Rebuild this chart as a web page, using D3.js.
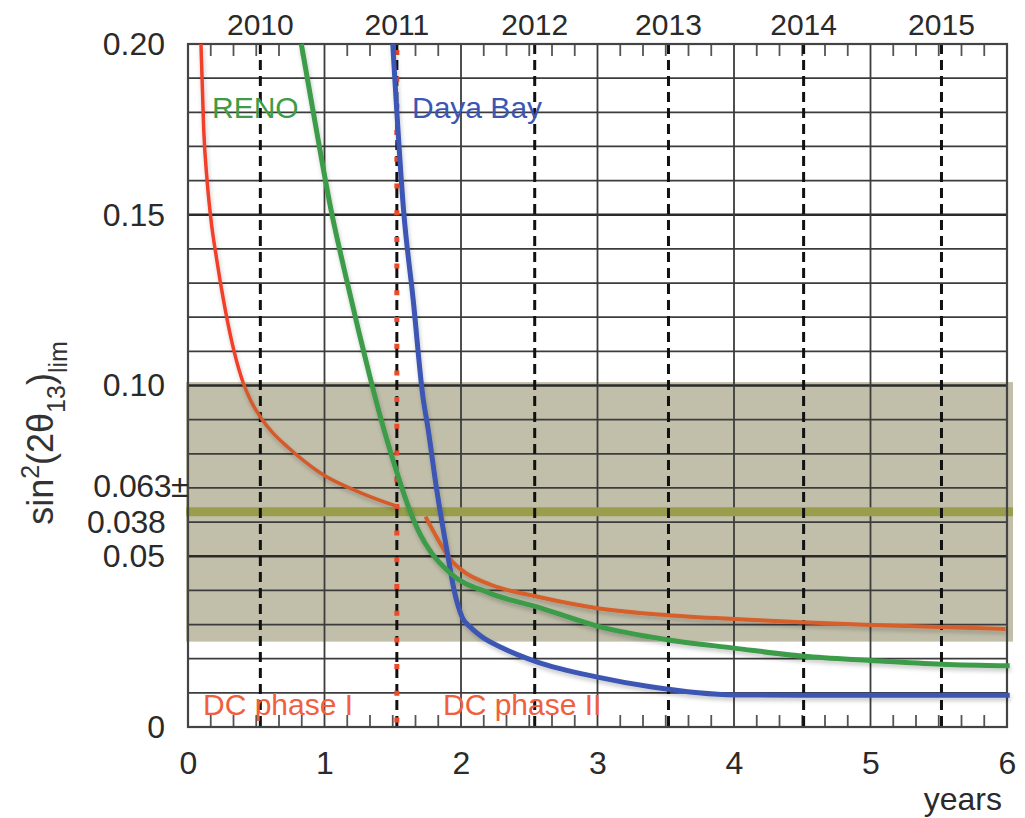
<!DOCTYPE html>
<html>
<head>
<meta charset="utf-8">
<script src="https://cdn.jsdelivr.net/npm/d3@7"></script>
<style>
  html, body { margin: 0; padding: 0; background: #ffffff; }
  svg { display: block; }
  text { font-family: "Liberation Sans", Arial, sans-serif; fill: #2a2a2a; }
</style>
</head>
<body>
<svg id="chart" width="1025" height="818"></svg>
<script>
// ---------------- data ----------------
const xTicks = [0, 1, 2, 3, 4, 5, 6];
const yTickValues = [0, 0.05, 0.10, 0.15, 0.20];
const yTickLabels = ["0", "0.05", "0.10", "0.15", "0.20"];
const yearLabels = ["2010", "2011", "2012", "2013", "2014", "2015"];
const yearPositions = [0.53, 1.53, 2.54, 3.52, 4.51, 5.52];
const dcPhaseBoundary = 1.53;

const bestFit = 0.063;
const bestFitError = 0.038;

// Double Chooz phase I (far detector only)
const dcPhase1 = [
  [0.095, 0.20], [0.115, 0.175], [0.14, 0.16], [0.17, 0.148], [0.21, 0.137],
  [0.26, 0.125], [0.32, 0.113], [0.39, 0.1025], [0.46, 0.0955], [0.535, 0.0905],
  [0.62, 0.0862], [0.73, 0.082], [0.97, 0.0744], [1.27, 0.0685], [1.54, 0.0645]
];
// Double Chooz phase II (near + far)
const dcPhase2 = [
  [1.74, 0.0616], [1.83, 0.055], [1.92, 0.0492], [2.01, 0.0458], [2.21, 0.0418],
  [2.58, 0.038], [3.0, 0.0348], [3.5, 0.0328], [4.0, 0.0316], [4.5, 0.0307],
  [5.0, 0.0299], [5.5, 0.0293], [5.99, 0.0287]
];
// RENO
const reno = [
  [0.83, 0.20], [0.94, 0.175], [1.05, 0.151], [1.15, 0.133], [1.25, 0.116],
  [1.33, 0.103], [1.415, 0.090], [1.515, 0.0765], [1.61, 0.065], [1.70, 0.0565],
  [1.78, 0.0512], [1.92, 0.0451], [2.21, 0.0392], [2.58, 0.0349], [3.02, 0.0293],
  [3.52, 0.0255], [4.0, 0.0231], [4.51, 0.0207], [5.0, 0.0195], [5.52, 0.0184],
  [6.02, 0.0179]
];
// Daya Bay
const dayaBay = [
  [1.50, 0.20], [1.58, 0.151], [1.65, 0.125], [1.72, 0.097], [1.76, 0.087],
  [1.82, 0.07], [1.90, 0.051], [1.95, 0.04], [2.01, 0.032], [2.07, 0.0292],
  [2.15, 0.0265], [2.3, 0.0232], [2.56, 0.019], [3.0, 0.0146], [3.4, 0.0117],
  [4.0, 0.0094], [4.5, 0.0093], [5.0, 0.0093], [6.02, 0.0093]
];

// ---------------- layout ----------------
const svg = d3.select("#chart");
const L = 188, R = 1007, T = 44, B = 727;
const x = d3.scaleLinear().domain([0, 6]).range([L, R]);
const y = d3.scaleLinear().domain([0, 0.20]).range([B, T]);

const defs = svg.append("defs");
const f = defs.append("filter").attr("id", "shadow")
  .attr("x", "-5%").attr("y", "-5%").attr("width", "110%").attr("height", "120%");
f.append("feDropShadow").attr("dx", 1).attr("dy", 3).attr("stdDeviation", 2)
  .attr("flood-color", "#000").attr("flood-opacity", 0.22);

defs.append("clipPath").attr("id", "aboveBand").append("rect")
  .attr("x", 0).attr("y", 0).attr("width", 1025).attr("height", y(bestFit + bestFitError));
defs.append("clipPath").attr("id", "inBand").append("rect")
  .attr("x", 0).attr("y", y(bestFit + bestFitError)).attr("width", 1025).attr("height", 818);

// band (best fit +- error)
svg.append("rect")
  .attr("x", L - 2).attr("y", y(bestFit + bestFitError))
  .attr("width", 1013 - (L - 2))
  .attr("height", y(bestFit - bestFitError) - y(bestFit + bestFitError))
  .attr("fill", "#c1bfaa");

// horizontal grid every 0.01
const hGrid = d3.range(1, 20).map(i => i / 100);
svg.append("g").selectAll("line").data(hGrid).join("line")
  .attr("x1", L).attr("x2", R)
  .attr("y1", d => y(d)).attr("y2", d => y(d))
  .attr("stroke", d => (Math.round(d * 100) % 5 === 0) ? "#2a2a2a" : "#3c3c3c")
  .attr("stroke-width", d => (Math.round(d * 100) % 5 === 0) ? 2.6 : 1.8);

// vertical solid grid at integer years
svg.append("g").selectAll("line").data(xTicks.slice(1, -1)).join("line")
  .attr("x1", d => x(d)).attr("x2", d => x(d))
  .attr("y1", T).attr("y2", B)
  .attr("stroke", "#3c3c3c").attr("stroke-width", 1.8);

// minor ticks (every 2 months) top & bottom
const minor = d3.range(1, 36).map(i => i / 6).filter(v => Math.abs(v - Math.round(v)) > 1e-6);
const tk = svg.append("g").attr("stroke", "#555").attr("stroke-width", 1.8);
tk.selectAll("line.b").data(minor).join("line").attr("class", "b")
  .attr("x1", d => x(d)).attr("x2", d => x(d)).attr("y1", B).attr("y2", B - 12);
tk.selectAll("line.t").data(minor).join("line").attr("class", "t")
  .attr("x1", d => x(d)).attr("x2", d => x(d)).attr("y1", T).attr("y2", T + 12);

// best-fit line
svg.append("line")
  .attr("x1", L - 2).attr("x2", 1013)
  .attr("y1", y(bestFit)).attr("y2", y(bestFit))
  .attr("stroke", "#9a9e4c").attr("stroke-width", 9);

// year dashed lines
svg.append("g").selectAll("line").data(yearPositions).join("line")
  .attr("x1", d => x(d)).attr("x2", d => x(d))
  .attr("y1", T).attr("y2", B)
  .attr("stroke", "#111").attr("stroke-width", 3)
  .attr("stroke-dasharray", "10,6");

// DC phase boundary dotted red line
svg.append("line")
  .attr("x1", x(dcPhaseBoundary)).attr("x2", x(dcPhaseBoundary))
  .attr("y1", y(0.20) + 6).attr("y2", B)
  .attr("stroke", "#ee4a2a").attr("stroke-width", 5)
  .attr("stroke-dasharray", "5,21.7");

// frame
svg.append("rect").attr("x", L).attr("y", T).attr("width", R - L).attr("height", B - T)
  .attr("fill", "none").attr("stroke", "#444").attr("stroke-width", 2.2);

// curves
const line = d3.line().x(d => x(d[0])).y(d => y(d[1])).curve(d3.curveMonotoneX);
const curves = svg.append("g").attr("filter", "url(#shadow)");

curves.append("path").datum(dcPhase1).attr("d", line).attr("fill", "none")
  .attr("stroke", "#f0402a").attr("stroke-width", 3.5).attr("clip-path", "url(#aboveBand)");
curves.append("path").datum(dcPhase1).attr("d", line).attr("fill", "none")
  .attr("stroke", "#d45a2c").attr("stroke-width", 3.5).attr("clip-path", "url(#inBand)");
curves.append("path").datum(dcPhase2).attr("d", line).attr("fill", "none")
  .attr("stroke", "#d65e2c").attr("stroke-width", 4);
curves.append("path").datum(dayaBay).attr("d", line).attr("fill", "none")
  .attr("stroke", "#3c56b4").attr("stroke-width", 5);
curves.append("path").datum(reno).attr("d", line).attr("fill", "none")
  .attr("stroke", "#3c9c48").attr("stroke-width", 5);

// axes
const xAxis = d3.axisBottom(x).tickValues(xTicks).tickSize(0).tickPadding(24)
  .tickFormat(d3.format("d"));
const gx = svg.append("g").attr("transform", `translate(0,${B})`).call(xAxis);
gx.select(".domain").remove();
gx.selectAll("text").attr("font-size", 32).attr("fill", "#2a2a2a")
  .attr("font-family", "Liberation Sans, Arial, sans-serif");

const yAxis = d3.axisLeft(y).tickValues(yTickValues).tickSize(0).tickPadding(23)
  .tickFormat((d, i) => yTickLabels[i]);
const gy = svg.append("g").attr("transform", `translate(${L},0)`).call(yAxis);
gy.select(".domain").remove();
gy.selectAll("text").attr("font-size", 32).attr("fill", "#2a2a2a")
  .attr("font-family", "Liberation Sans, Arial, sans-serif");

// top year labels
svg.append("g").selectAll("text").data(yearLabels).join("text")
  .attr("x", (d, i) => x(yearPositions[i])).attr("y", 35)
  .attr("text-anchor", "middle").attr("font-size", 30).text(d => d);

// best-fit annotation
svg.append("text").attr("x", 188).attr("y", y(bestFit) - 15)
  .attr("text-anchor", "end").attr("font-size", 32).attr("letter-spacing", -0.5)
  .text("0.063±");
svg.append("text").attr("x", 87).attr("y", y(bestFit) + 21)
  .attr("text-anchor", "start").attr("font-size", 32).attr("letter-spacing", -0.3)
  .text("0.038");

// x axis title
svg.append("text").attr("x", 1002).attr("y", 810).attr("text-anchor", "end")
  .attr("font-size", 32).text("years");

// y axis title
const yt = svg.append("text").attr("transform", "translate(53,433) rotate(-90)")
  .attr("text-anchor", "middle").attr("font-size", 36).style("fill", "#333");
yt.append("tspan").text("sin");
yt.append("tspan").attr("font-size", 25).attr("dy", -14).text("2");
yt.append("tspan").attr("dy", 14).text("(2θ");
yt.append("tspan").attr("font-size", 25).attr("dy", 12).text("13");
yt.append("tspan").attr("dy", -12).text(")");
yt.append("tspan").attr("font-size", 25).attr("dy", 14).text("lim");

// series labels
svg.append("text").attr("x", 212).attr("y", 118).attr("font-size", 30)
  .style("fill", "#3c9c48").text("RENO");
svg.append("text").attr("x", 412).attr("y", 118).attr("font-size", 30)
  .style("fill", "#3c56b4").text("Daya Bay");
svg.append("text").attr("x", 203).attr("y", 715).attr("font-size", 30)
  .style("fill", "#f0603e").text("DC phase I");
svg.append("text").attr("x", 443).attr("y", 715).attr("font-size", 30)
  .style("fill", "#f0603e").text("DC phase II");
</script>
</body>
</html>
